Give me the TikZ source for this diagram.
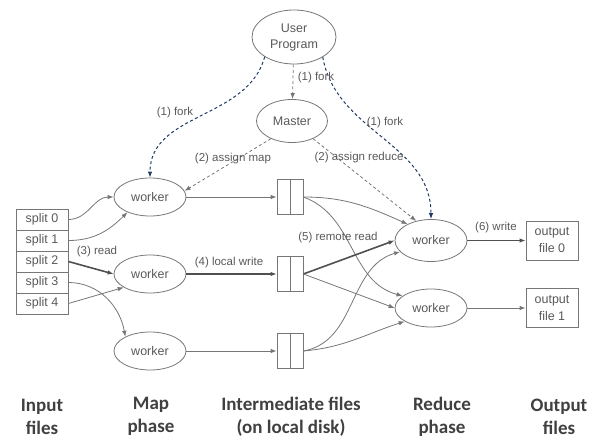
\documentclass[tikz,border=0pt]{standalone}
\usepackage{fontspec}
\setmainfont{Liberation Sans}
\newfontfamily\phasefont{Carlito}
\usepackage{tikz}
\usepackage{xcolor}
\usetikzlibrary{shapes.geometric,arrows.meta}

\definecolor{linegray}{HTML}{767676}
\definecolor{darkline}{HTML}{505050}
\definecolor{textgray}{HTML}{595959}
\definecolor{forkblue}{HTML}{203864}
\definecolor{phasegray}{HTML}{404040}

\begin{document}
\begin{tikzpicture}[x=1pt, y=1pt,
  proc/.style={ellipse, draw=linegray, line width=0.8pt, inner sep=0pt, align=center,
    text=textgray, font=\fontsize{12.5}{16}\selectfont},
  filebox/.style={rectangle, draw=linegray, line width=0.8pt, inner sep=0pt, align=center,
    text=textgray, font=\fontsize{12.5}{17}\selectfont},
  interbox/.style={rectangle, draw=linegray, line width=0.8pt, minimum width=26pt, minimum height=35pt},
  lbl/.style={text=textgray, inner sep=0pt, font=\fontsize{11.5}{14}\selectfont},
  phase/.style={align=center, text=phasegray, font=\phasefont\bfseries\fontsize{19}{23}\selectfont},
  arr/.style={draw=linegray, line width=0.8pt, -{Latex[length=6pt,width=4.5pt]}},
  thickarr/.style={arr, draw=darkline, line width=1.6pt},
  dasharr/.style={arr, dash pattern=on 3pt off 2.5pt},
  forkarr/.style={dasharr, draw=forkblue, line width=1pt}]
  \useasboundingbox (0,0) rectangle (595,-439);

  % Define the user program and the master
  \node[proc, minimum width=84pt, minimum height=54pt] (user) at (294,-37) {User\\Program};
  \node[proc, minimum width=71pt, minimum height=43pt] (master) at (292,-121) {Master};

  % Define the input splits
  \node[filebox, minimum width=52pt, minimum height=21pt] (s0) at (42,-219.5) {split 0};
  \node[filebox, minimum width=52pt, minimum height=21pt] (s1) at (42,-240.5) {split 1};
  \node[filebox, minimum width=52pt, minimum height=21pt] (s2) at (42,-261.5) {split 2};
  \node[filebox, minimum width=52pt, minimum height=21pt] (s3) at (42,-282.5) {split 3};
  \node[filebox, minimum width=52pt, minimum height=21pt] (s4) at (42,-303.5) {split 4};

  % Define the map workers
  \node[proc, minimum width=72pt, minimum height=38pt] (m0) at (150,-197) {worker};
  \node[proc, minimum width=72pt, minimum height=38pt] (m1) at (150,-274) {worker};
  \node[proc, minimum width=72pt, minimum height=38pt] (m2) at (150,-351) {worker};

  % Define the intermediate files
  \node[interbox] (f0) at (290,-197) {};
  \node[interbox] (f1) at (290,-274) {};
  \node[interbox] (f2) at (290,-351) {};
  \draw[linegray, line width=0.8pt] (f0.north) -- (f0.south);
  \draw[linegray, line width=0.8pt] (f1.north) -- (f1.south);
  \draw[linegray, line width=0.8pt] (f2.north) -- (f2.south);

  % Define the reduce workers and the output files
  \node[proc, minimum width=72pt, minimum height=42pt] (r0) at (431,-240.5) {worker};
  \node[proc, minimum width=72pt, minimum height=38pt] (r1) at (431,-308) {worker};
  \node[filebox, minimum width=52pt, minimum height=39pt] (o0) at (552,-240.5) {output\\file 0};
  \node[filebox, minimum width=52pt, minimum height=39pt] (o1) at (552,-308) {output\\file 1};

  % Draw the fork and assign edges
  \draw[dasharr] (user) -- (master);
  \draw[forkarr] (user.214) to[out=-105, in=90] (m0.north);
  \draw[forkarr] (user.325) to[out=-80, in=90] (r0.north);
  \draw[dasharr] (master.220) -- (m0.10);
  \draw[dasharr] (master.320) -- (r0.127);

  % Draw the read edges
  \draw[arr] (s0.east) to[out=0, in=180] (m0.west);
  \draw[arr] (s1.east) to[out=0, in=225] (m0.214);
  \draw[thickarr] (s2.east) -- (m1.west);
  \draw[arr] (s3.east) to[out=0, in=100] (m2.150);
  \draw[arr] (s4.east) -- (m1.207);

  % Draw the local write edges
  \draw[arr] (m0) -- (f0);
  \draw[thickarr] (m1) -- (f1);
  \draw[arr] (m2) -- (f2);

  % Draw the remote read edges
  \draw[arr] (f0.east) to[out=0, in=156] (r0.145);
  \draw[arr] (f0.east) to[out=-20, in=165] (r1.157);
  \draw[thickarr] (f1.east) -- (r0.west);
  \draw[arr] (f1.east) -- (r1.west);
  \draw[arr] (f2.east) to[out=10, in=196] (r0.200);
  \draw[arr] (f2.east) to[out=5, in=198] (r1.207);

  % Draw the write edges
  \draw[thickarr] (r0.east) -- (o0.west);
  \draw[arr] (r1.east) -- (o1.west);

  % Edge labels
  \node[lbl] (lfork0) at (316,-78) {(1) fork};
  \node[lbl] (lfork1) at (175,-113) {(1) fork};
  \node[lbl] (lfork2) at (385,-123) {(1) fork};
  \node[lbl] (lmap) at (233,-159) {(2) assign map};
  \node[lbl] (lreduce) at (359,-158) {(2) assign reduce};
  \node[lbl] (lread) at (97,-252) {(3) read};
  \node[lbl] (lwrite) at (229,-263) {(4) local write};
  \node[lbl] (lremote) at (338,-238) {(5) remote read};
  \node[lbl] (lout) at (496,-228) {(6) write};

  % Phase captions
  \node[phase] (pin) at (42,-416.5) {Input\\files};
  \node[phase] (pmap) at (151,-416.5) {Map\\phase};
  \node[phase] (pinter) at (291,-416.5) {Intermediate files\\(on local disk)};
  \node[phase] (preduce) at (442,-416.5) {Reduce\\phase};
  \node[phase] (pout) at (559,-416.5) {Output\\files};
\end{tikzpicture}
\end{document}
